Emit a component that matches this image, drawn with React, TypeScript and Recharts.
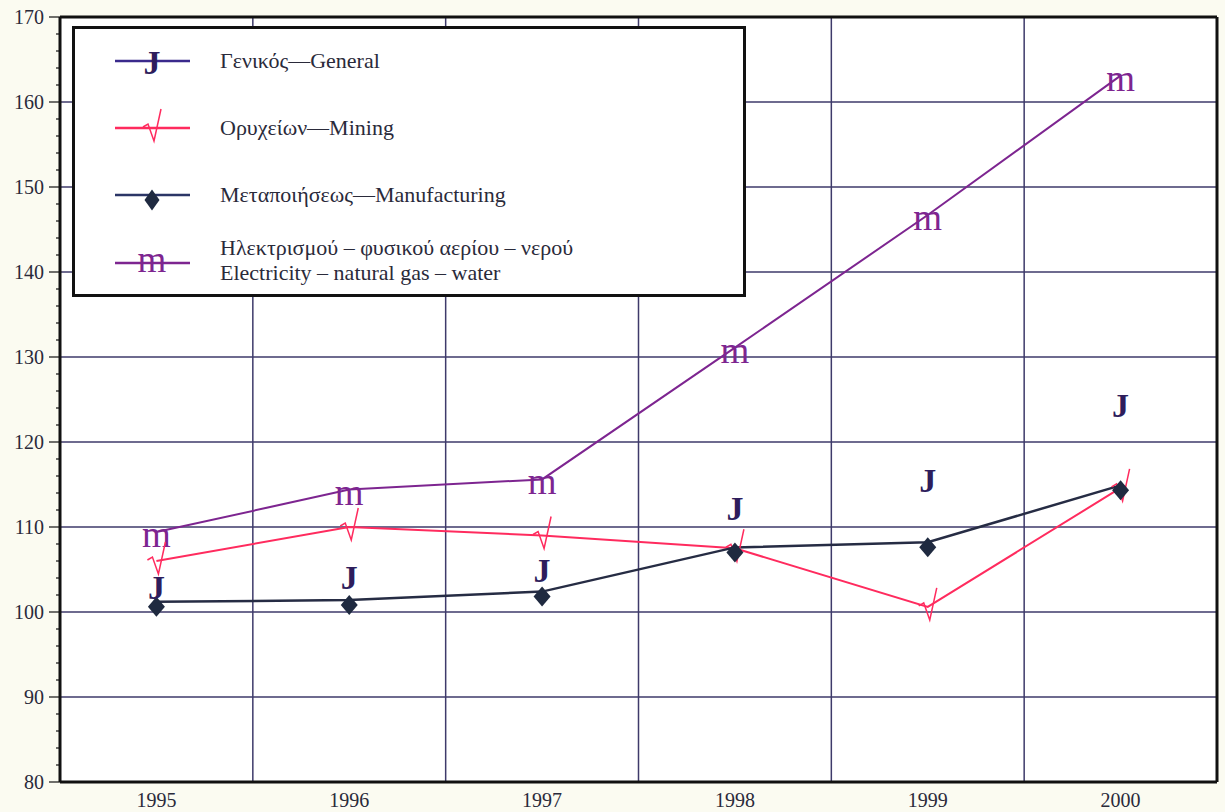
import { LineChart, Line, XAxis, YAxis, ReferenceLine, CartesianGrid, Legend } from 'recharts'

// index values
const years = [1995, 1996, 1997, 1998, 1999, 2000]
const general = [103.1, 104.2, 105.1, 112.4, 115.6, 124.5]
const mining = [106.0, 110.0, 109.0, 107.5, 100.6, 114.6]
const manufacturing = [101.2, 101.4, 102.4, 107.6, 108.2, 114.9]
const electricity = [109.4, 114.4, 115.6, 131.1, 146.7, 163.1]

const yMajor = [80, 90, 100, 110, 120, 130, 140, 150, 160, 170]
const yTicks = Array.from({ length: 46 }, (_, i) => 80 + i * 2)

const legendLabels = {
  general: 'Γενικός—General',
  mining: 'Ορυχείων—Mining',
  manufacturing: 'Μεταποιήσεως—Manufacturing',
  electricityGr: 'Ηλεκτρισμού – φυσικού αερίου – νερού',
  electricityEn: 'Electricity – natural  gas – water',
}

const SERIF = '"Liberation Serif", "DejaVu Serif", serif'
const GEN = '#2e1d5c'
const MIN = '#ff2b5e'
const MAN = '#262c44'
const DIAMOND = '#1f2a40'
const ELE = '#7d2590'
const GRID = '#3e3a6a'
const TEXT = '#2a2a3a'

const data = years.map((year, i) => ({
  year,
  general: general[i],
  mining: mining[i],
  manufacturing: manufacturing[i],
  electricity: electricity[i],
}))

const JMark = ({ cx, cy, size = 34 }: any) => (
  <text x={cx} y={cy + 13} textAnchor="middle" fontSize={size} fontWeight="bold" fontFamily={SERIF} fill={GEN}>J</text>
)

const CheckMark = ({ cx, cy }: any) => (
  <path
    d={`M${cx - 9},${cy - 1} L${cx - 4},${cy - 4} L${cx + 2},${cy + 13} L${cx + 9},${cy - 19}`}
    fill="none"
    stroke={MIN}
    strokeWidth={1.5}
  />
)

const Diamond = ({ cx, cy, w = 17, h = 20 }: any) => (
  <polygon
    points={`${cx},${cy + 5 - h / 2} ${cx + w / 2},${cy + 5} ${cx},${cy + 5 + h / 2} ${cx - w / 2},${cy + 5}`}
    fill={DIAMOND}
  />
)

const MMark = ({ cx, cy, dy = 15 }: any) => (
  <text x={cx} y={cy + dy} textAnchor="middle" fontSize={37} fontFamily={SERIF} fill={ELE}>m</text>
)

const YTick = ({ x, y, payload }: any) => {
  const major = yMajor.includes(payload.value)
  return (
    <g>
      <line x1={x - (major ? 11 : 4)} x2={x} y1={y} y2={y} stroke="#111" strokeWidth={1.2} />
      {major && (
        <text x={x - 16} y={y + 7} textAnchor="end" fontSize={20} fontFamily={SERIF} fill={TEXT}>
          {payload.value}
        </text>
      )}
    </g>
  )
}

const XTick = ({ x, y, payload }: any) => (
  <text x={x} y={y + 25} textAnchor="middle" fontSize={20} fontFamily={SERIF} fill={TEXT}>
    {payload.value}
  </text>
)

function LegendBox() {
  const lx1 = 43
  const lx2 = 118
  const cx = 80
  const tx = 148
  const txt = { fontSize: 22, fontFamily: SERIF, fill: TEXT }
  return (
    <svg width={674} height={271}>
      <rect x={1.5} y={1.5} width={671} height={268} fill="#fff" stroke="#111" strokeWidth={3} />
      <line x1={lx1} x2={lx2} y1={35} y2={35} stroke="#3a2a8c" strokeWidth={2.5} />
      <JMark cx={cx} cy={35} />
      <text x={tx} y={42} {...txt}>{legendLabels.general}</text>

      <line x1={lx1} x2={lx2} y1={102} y2={102} stroke={MIN} strokeWidth={2.5} />
      <CheckMark cx={cx} cy={102} />
      <text x={tx} y={109} {...txt}>{legendLabels.mining}</text>

      <line x1={lx1} x2={lx2} y1={169} y2={169} stroke="#2b3566" strokeWidth={2.5} />
      <Diamond cx={cx} cy={169} w={15} h={21} />
      <text x={tx} y={176} {...txt}>{legendLabels.manufacturing}</text>

      <line x1={lx1} x2={lx2} y1={237} y2={237} stroke={ELE} strokeWidth={2.5} />
      <MMark cx={cx} cy={237} dy={9} />
      <text x={tx} y={229} {...txt}>{legendLabels.electricityGr}</text>
      <text x={tx} y={254} {...txt}>{legendLabels.electricityEn}</text>
    </svg>
  )
}

export default function App() {
  return (
    <div style={{ position: 'absolute', left: 0, top: 0, width: 1225, height: 812, background: '#fbfbf1' }}>
      <LineChart width={1225} height={812} data={data} margin={{ top: 17, right: 8, bottom: 0, left: 0 }}>
        <CartesianGrid horizontal={false} vertical={false} fill="#ffffff" fillOpacity={1} />
        {yMajor.slice(1, -1).map(v => (
          <ReferenceLine key={`h${v}`} y={v} stroke={GRID} strokeWidth={1.3} />
        ))}
        {years.slice(0, -1).map(y => (
          <ReferenceLine key={`v${y}`} x={y + 0.5} stroke={GRID} strokeWidth={1.5} />
        ))}
        <ReferenceLine y={170} stroke="#111" strokeWidth={3} />
        <ReferenceLine x={2000.5} stroke="#111" strokeWidth={3} />
        <XAxis
          dataKey="year"
          type="number"
          domain={[1994.5, 2000.5]}
          ticks={years}
          interval={0}
          height={30}
          tickLine={false}
          tickSize={0}
          tickMargin={0}
          axisLine={{ stroke: '#111', strokeWidth: 3 }}
          tick={<XTick />}
        />
        <YAxis
          domain={[80, 170]}
          ticks={yTicks}
          interval={0}
          width={60}
          tickLine={false}
          tickSize={0}
          tickMargin={0}
          axisLine={{ stroke: '#111', strokeWidth: 3 }}
          tick={<YTick />}
        />
        <Legend
          layout="vertical"
          align="center"
          verticalAlign="middle"
          wrapperStyle={{ left: 72, top: 26, width: 674, height: 271 }}
          content={() => <LegendBox />}
        />
        <Line
          dataKey="electricity"
          stroke={ELE}
          strokeWidth={2}
          isAnimationActive={false}
          dot={(p: any) => <MMark key={`m${p.index}`} cx={p.cx} cy={p.cy} />}
          activeDot={false}
        />
        <Line
          dataKey="mining"
          stroke={MIN}
          strokeWidth={2}
          isAnimationActive={false}
          dot={(p: any) => <CheckMark key={`c${p.index}`} cx={p.cx} cy={p.cy} />}
          activeDot={false}
        />
        <Line
          dataKey="manufacturing"
          stroke={MAN}
          strokeWidth={2.5}
          isAnimationActive={false}
          dot={(p: any) => <Diamond key={`d${p.index}`} cx={p.cx} cy={p.cy} />}
          activeDot={false}
        />
        <Line
          dataKey="general"
          stroke="none"
          isAnimationActive={false}
          dot={(p: any) => <JMark key={`j${p.index}`} cx={p.cx} cy={p.cy} />}
          activeDot={false}
        />
      </LineChart>
    </div>
  )
}
